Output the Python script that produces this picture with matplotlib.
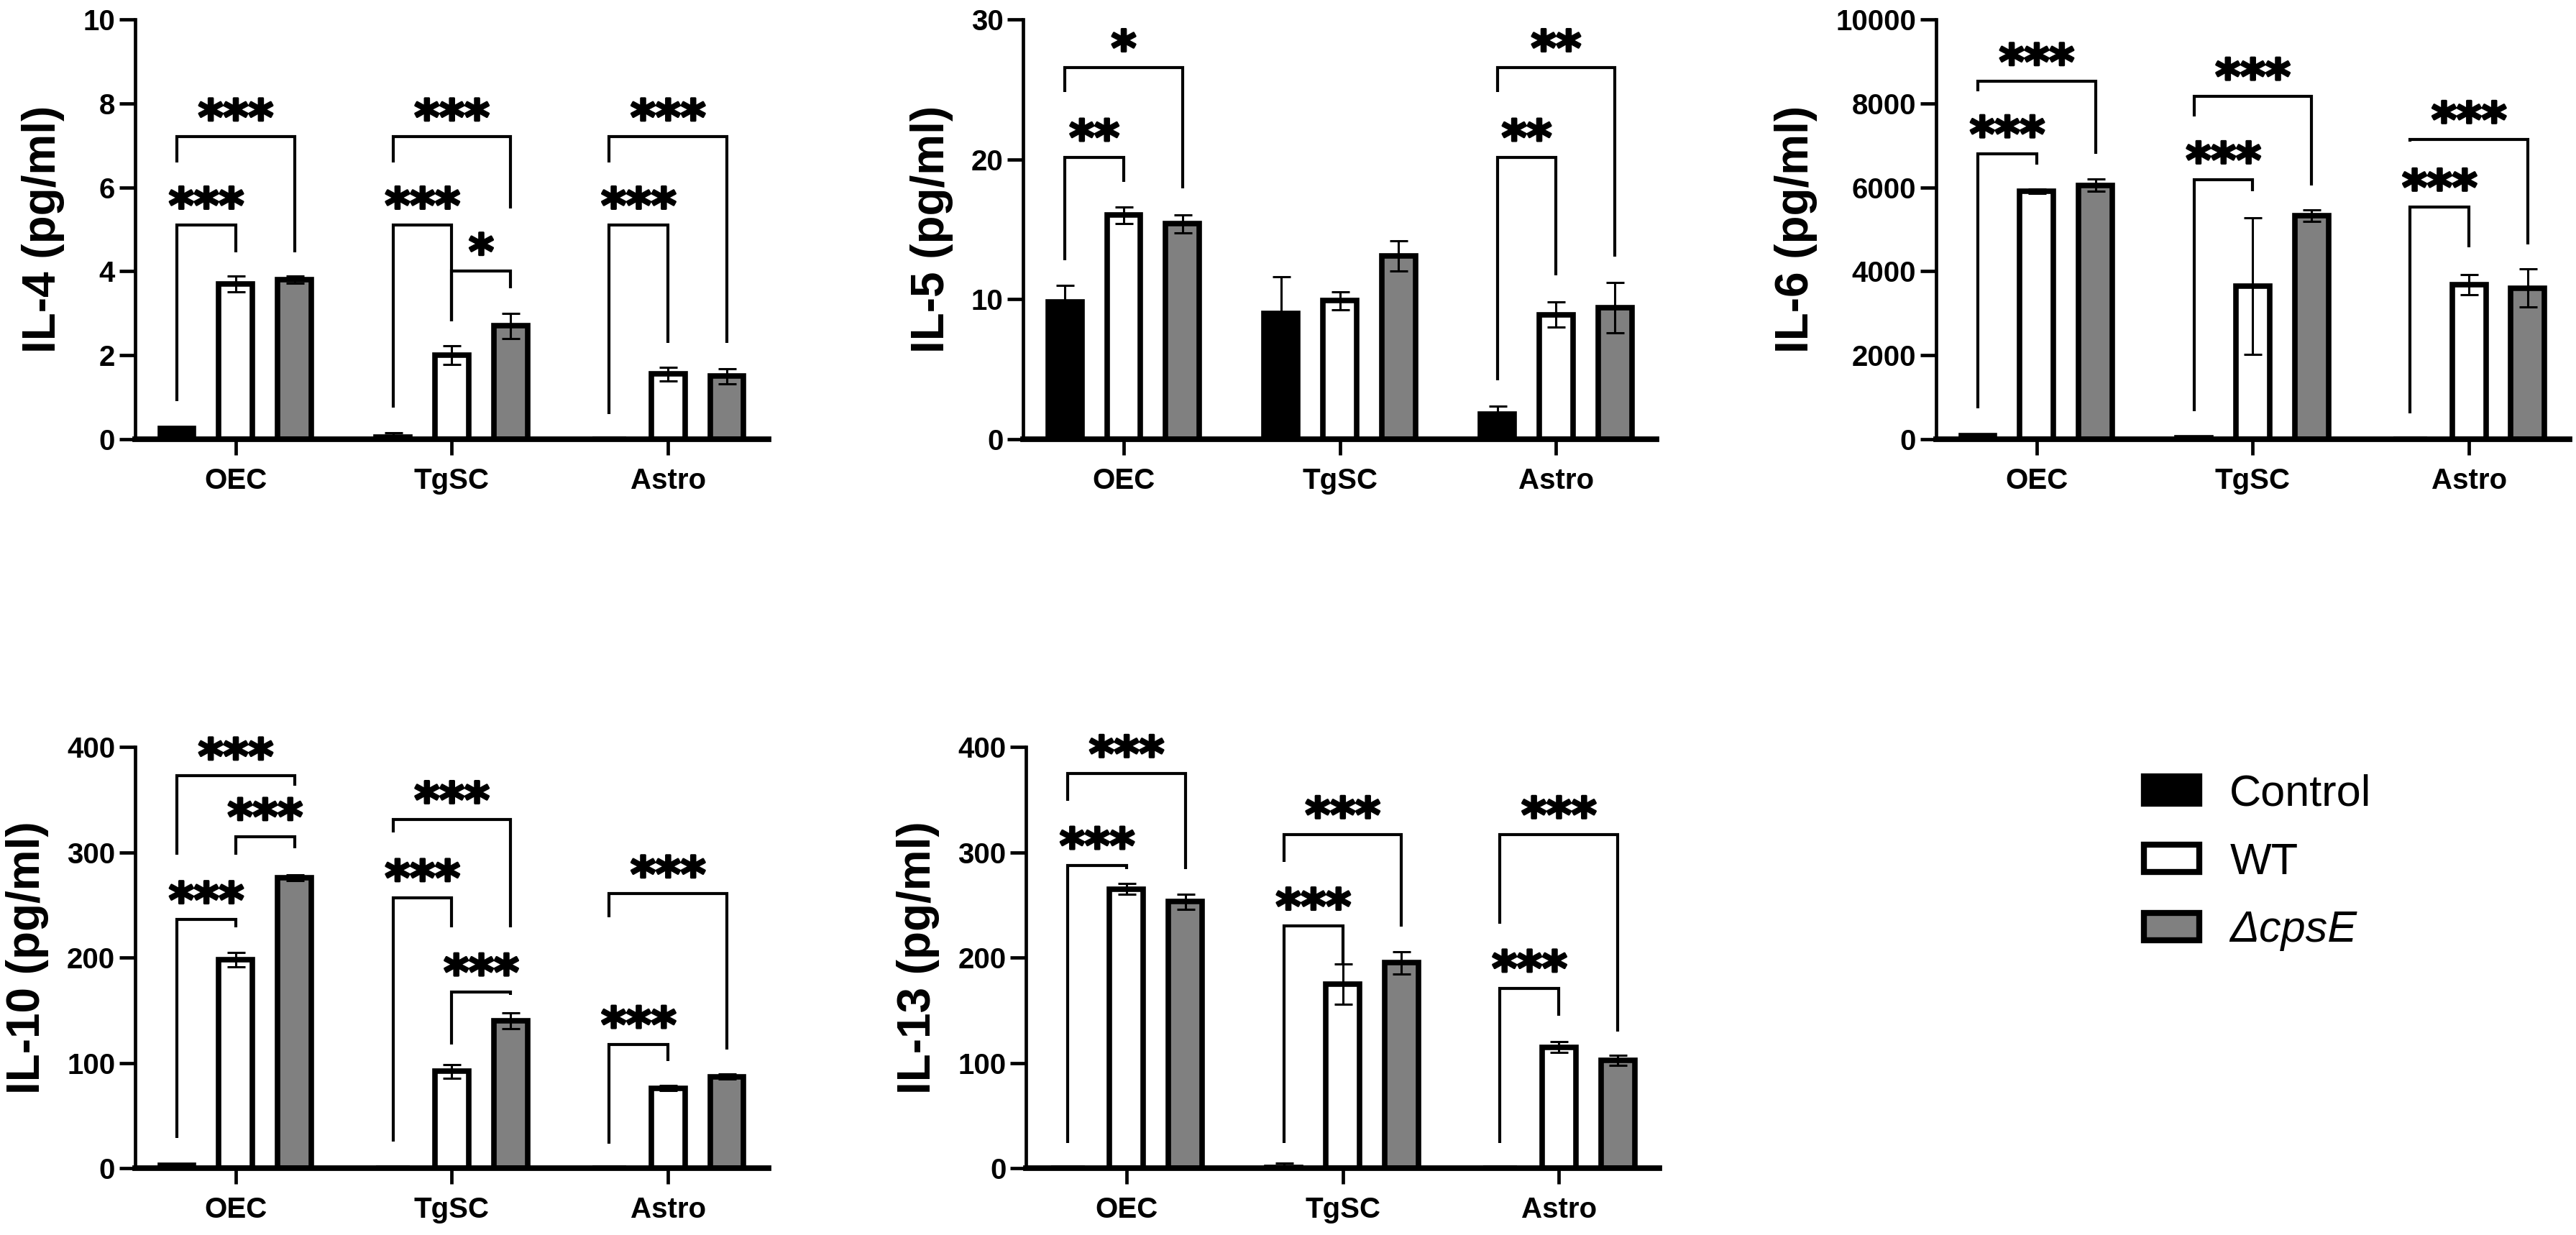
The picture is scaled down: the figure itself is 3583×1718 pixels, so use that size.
import numpy as np
import matplotlib.pyplot as plt
import matplotlib.patheffects as pe
from matplotlib.patches import Patch

plt.rcParams['font.family'] = ['Liberation Sans', 'DejaVu Sans']

groups = ['OEC', 'TgSC', 'Astro']
series = ['Control', 'WT', 'ΔcpsE']
bar_colors = ['black', 'white', '#808080']

# means / SD per series (rows: Control, WT, ΔcpsE; cols: OEC, TgSC, Astro)
il4_means = [[0.25, 0.05, 0.0], [3.7, 2.0, 1.55], [3.8, 2.7, 1.5]]
il4_errs = [[0.04, 0.10, 0.0], [0.19, 0.22, 0.16], [0.08, 0.30, 0.18]]
il5_means = [[9.8, 9.0, 1.8], [16.0, 9.9, 8.9], [15.4, 13.1, 9.4]]
il5_errs = [[1.2, 2.6, 0.55], [0.6, 0.65, 0.9], [0.65, 1.1, 1.8]]
il6_means = [[80, 30, 0], [5900, 3650, 3680], [6050, 5320, 3600]]
il6_errs = [[20, 10, 0], [50, 1630, 245], [140, 140, 450]]
il10_means = [[2.5, 0, 0], [198, 92, 76], [276, 140, 87]]
il10_errs = [[1.0, 0, 0], [6.7, 6.4, 2.5], [2.7, 7.4, 2.5]]
il13_means = [[0, 1, 0], [265, 175, 115], [253, 195, 102.5]]
il13_errs = [[0, 3.5, 0], [5, 19, 5.4], [7, 10.7, 4.7]]

# significance brackets: (group, bar a, bar b, height, left leg end, right leg end, label)
il4_sig = [(0, 0, 1, 5.1, 0.9, 4.45, '***'), (0, 0, 2, 7.2, 6.6, 4.45, '***'),
           (1, 0, 1, 5.1, 0.75, 2.8, '***'), (1, 1, 2, 4.0, 2.8, 3.6, '*'),
           (1, 0, 2, 7.2, 6.6, 5.5, '***'),
           (2, 0, 1, 5.1, 0.6, 2.3, '***'), (2, 0, 2, 7.2, 6.6, 2.3, '***')]
il5_sig = [(0, 0, 1, 20.15, 12.8, 18.4, '**'), (0, 0, 2, 26.55, 24.8, 17.9, '*'),
           (2, 0, 1, 20.15, 4.2, 11.7, '**'), (2, 0, 2, 26.55, 24.8, 13.05, '**')]
il6_sig = [(0, 0, 1, 6800, 740, 6545, '***'), (0, 0, 2, 8520, 8290, 6800, '***'),
           (1, 0, 1, 6180, 660, 5910, '***'), (1, 0, 2, 8170, 7680, 6040, '***'),
           (2, 0, 1, 5530, 620, 4575, '***'), (2, 0, 2, 7140, 7090, 4640, '***')]
il10_sig = [(0, 0, 1, 236, 28.6, 229, '***'), (0, 1, 2, 315, 297.5, 304, '***'),
            (0, 0, 2, 372.4, 297.5, 363, '***'),
            (1, 0, 1, 257, 25, 228.6, '***'), (1, 1, 2, 167.4, 117.6, 164.7, '***'),
            (1, 0, 2, 331, 318.7, 228.6, '***'),
            (2, 0, 1, 117.6, 23.5, 101.5, '***'), (2, 0, 2, 260.5, 238, 112.6, '***')]
il13_sig = [(0, 0, 1, 287.6, 24, 284, '***'), (0, 0, 2, 374.8, 349, 284, '***'),
            (1, 0, 1, 229.9, 24, 193.6, '***'), (1, 0, 2, 316.8, 291, 229.5, '***'),
            (2, 0, 1, 171, 24, 145, '***'), (2, 0, 2, 316.8, 232, 130, '***')]

panels = [
    ('IL-4 (pg/ml)', il4_means, il4_errs, il4_sig, 10, 2, [0.05247, 0.6444, 0.24588, 0.3399]),
    ('IL-5 (pg/ml)', il5_means, il5_errs, il5_sig, 30, 10, [0.3972, 0.6444, 0.24588, 0.3399]),
    ('IL-6 (pg/ml)', il6_means, il6_errs, il6_sig, 10000, 2000, [0.7516, 0.6444, 0.24588, 0.3399]),
    ('IL-10 (pg/ml)', il10_means, il10_errs, il10_sig, 400, 100, [0.05247, 0.0541, 0.24588, 0.3411]),
    ('IL-13 (pg/ml)', il13_means, il13_errs, il13_sig, 400, 100, [0.3983, 0.0541, 0.24588, 0.3411]),
]

fig = plt.figure(figsize=(35.83, 17.18), dpi=100)

x = np.arange(len(groups))
width = 0.156
offsets = [-0.272, 0.0, 0.272]
star_fx = [pe.withStroke(linewidth=2.2, foreground='black')]

for ylabel, means, errs, sigs, ymax, ystep, rect in panels:
    ax = fig.add_axes(rect)
    for k in range(3):
        ax.bar(x + offsets[k], means[k], width, color=bar_colors[k],
               edgecolor='black', linewidth=5.5, zorder=2)
        ax.errorbar(x + offsets[k], means[k], yerr=errs[k], fmt='none',
                    ecolor='black', elinewidth=2.2, capsize=9, capthick=2.2, zorder=3)
    for g, a, b, h, yl, yr, lab in sigs:
        xa = g + offsets[a]
        xb = g + offsets[b]
        ax.plot([xa, xa, xb, xb], [yl, h, h, yr], color='black', lw=3,
                solid_joinstyle='miter', solid_capstyle='butt', zorder=4)
        ax.annotate(lab, ((xa + xb) / 2, h), xytext=(0, 3), textcoords='offset points',
                    ha='center', va='baseline', fontsize=48, fontweight='bold',
                    family='DejaVu Sans', path_effects=star_fx)
    ax.set_xlim(-0.465, 2.465)
    ax.set_ylim(0, ymax)
    ax.set_yticks(np.arange(0, ymax + ystep / 2, ystep))
    ax.set_xticks(x)
    ax.set_xticklabels(groups)
    ax.spines['top'].set_visible(False)
    ax.spines['right'].set_visible(False)
    ax.spines['left'].set_linewidth(3.4)
    ax.spines['bottom'].set_linewidth(5.6)
    ax.spines['bottom'].set_zorder(5)
    ax.tick_params(axis='both', length=16, width=3.4, labelsize=29)
    ax.tick_params(axis='x', pad=12)
    ax.tick_params(axis='y', pad=4)
    for t in ax.get_xticklabels() + ax.get_yticklabels():
        t.set_fontweight('bold')
    ax.set_ylabel(ylabel, fontsize=46, fontweight='bold', labelpad=18)

handles = [Patch(facecolor=c, edgecolor='black', linewidth=6) for c in bar_colors]
leg = fig.legend(handles, series, loc='center left', bbox_to_anchor=(0.8323, 0.3015),
                 frameon=False, fontsize=44, handlelength=1.25, handleheight=0.58,
                 handletextpad=0.7, labelspacing=0.62, borderpad=0, borderaxespad=0)
leg.get_texts()[2].set_fontstyle('italic')

fig.savefig('out.png', dpi=100)
